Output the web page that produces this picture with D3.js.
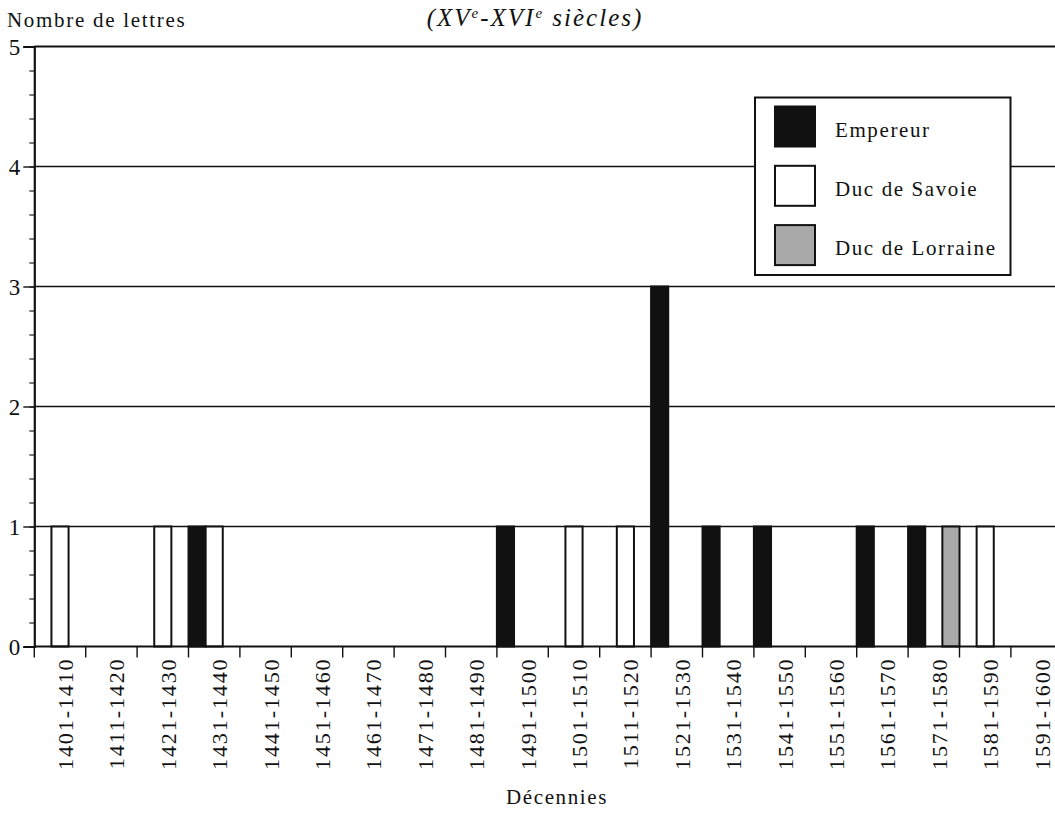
<!DOCTYPE html>
<html><head><meta charset="utf-8">
<script src="https://cdn.jsdelivr.net/npm/d3@7"></script>
<style>
html,body{margin:0;padding:0;background:#fff;overflow:hidden;}
svg{display:block;}
svg text{font-family:"Liberation Serif","DejaVu Serif","Noto Serif",serif !important;fill:#111;}
</style></head>
<body>
<svg id="chart" width="1055" height="813"></svg>
<script>
const decades = ["1401-1410","1411-1420","1421-1430","1431-1440","1441-1450","1451-1460","1461-1470","1471-1480","1481-1490","1491-1500","1501-1510","1511-1520","1521-1530","1531-1540","1541-1550","1551-1560","1561-1570","1571-1580","1581-1590","1591-1600"];
const seriesNames = ["Empereur","Duc de Savoie","Duc de Lorraine"];
const empereur = [0,0,0,1,0,0,0,0,0,1,0,0,3,1,1,0,1,1,0,0];
const savoie   = [1,0,1,1,0,0,0,0,0,0,1,1,0,0,0,0,0,0,1,0];
const lorraine = [0,0,0,0,0,0,0,0,0,0,0,0,0,0,0,0,0,1,0,0];
const yTicks = [0,1,2,3,4,5];
const seriesColors = ["#111111","#ffffff","#a9a9a9"];
const yTitle = "Nombre de lettres";
const xTitle = "Décennies";

const FONT = "'Liberation Serif','DejaVu Serif','Noto Serif',serif";
const svg = d3.select("#chart");
const left = 34.3, bandW = 51.4;
const y0 = 646.5, yTop = 46.5;

const x0 = d3.scaleBand().domain(decades).range([left, left + bandW*decades.length]).paddingInner(0).paddingOuter(0);
const x1 = d3.scaleBand().domain(seriesNames).range([0, x0.bandwidth()]).padding(0);
const y = d3.scaleLinear().domain([0,5]).range([y0, yTop]);
const color = d3.scaleOrdinal().domain(seriesNames).range(seriesColors);

// Title
const title = svg.append("text").attr("x", 535).attr("y", 26).attr("text-anchor","middle")
  .attr("font-family", FONT)
  .style("font-style","italic").style("font-size","25px").style("letter-spacing","2px");
title.append("tspan").text("(XV");
title.append("tspan").attr("dy",-8).style("font-size","15px").text("e");
title.append("tspan").attr("dy",8).text("-XVI");
title.append("tspan").attr("dy",-8).style("font-size","15px").text("e");
title.append("tspan").attr("dy",8).text(" siècles)");

// Gridlines
svg.append("g").selectAll("line").data(yTicks.filter(d=>d>0)).join("line")
  .attr("x1", left).attr("x2", 1060)
  .attr("y1", d=>y(d)).attr("y2", d=>y(d))
  .attr("stroke","#111").attr("stroke-width", d=> d===5 ? 2.2 : 1.4);

// Bars
const data = decades.map((d,i)=>({decade:d, values:[empereur[i], savoie[i], lorraine[i]]}));
const g = svg.append("g");
data.forEach(row=>{
  row.values.forEach((v,j)=>{
    if(v>0){
      const s = seriesNames[j];
      g.append("rect")
        .attr("x", x0(row.decade) + x1(s))
        .attr("y", y(v))
        .attr("width", x1.bandwidth())
        .attr("height", y(0)-y(v))
        .attr("fill", color(s))
        .attr("stroke","#111").attr("stroke-width",2);
    }
  });
});

// Y axis minor ticks
const minor = d3.range(0,5.0001,0.2).map(v=>+v.toFixed(1));
svg.append("g").attr("transform",`translate(${left},0)`)
  .call(d3.axisLeft(y).tickValues(minor).tickSize(5).tickFormat(""))
  .call(g=>g.select(".domain").remove())
  .call(g=>g.selectAll("line").attr("stroke","#222").attr("stroke-width",1.2));
// Y axis major
const yAxis = svg.append("g").attr("transform",`translate(${left},0)`)
  .call(d3.axisLeft(y).tickValues(yTicks).tickSize(11).tickPadding(3).tickFormat(d3.format("d")));
yAxis.attr("font-family", FONT).attr("font-size", 23);
yAxis.select(".domain").attr("stroke","#111").attr("stroke-width",2.2);
yAxis.selectAll("line").attr("stroke","#111").attr("stroke-width",1.4);
yAxis.selectAll("text").attr("font-family", FONT).style("font-size","23px").attr("fill","#111").attr("dy","0.35em");

// X axis
svg.append("line").attr("x1",left).attr("x2",1060).attr("y1",y0).attr("y2",y0)
  .attr("stroke","#111").attr("stroke-width",2.2);
svg.append("g").selectAll("line").data(decades).join("line")
  .attr("x1", d=>x0(d)).attr("x2", d=>x0(d))
  .attr("y1", y0).attr("y2", y0+11)
  .attr("stroke","#111").attr("stroke-width",1.4);
svg.append("g").selectAll("text").data(decades).join("text")
  .attr("transform", d=>`translate(${x0(d)+x0.bandwidth()/2+13},${y0+11}) rotate(-90)`)
  .attr("text-anchor","end")
  .attr("font-family", FONT)
  .style("font-size","22px").style("letter-spacing","1.9px")
  .text(d=>d);

// Axis titles
svg.append("text").attr("x",7).attr("y",27).attr("font-family", FONT).style("font-size","21px").style("letter-spacing","1.7px").text(yTitle);
svg.append("text").attr("x",557).attr("y",804).attr("text-anchor","middle").attr("font-family", FONT).style("font-size","21px").style("letter-spacing","1.6px").text(xTitle);

// Legend
const lg = svg.append("g");
lg.append("rect").attr("x",755).attr("y",97.5).attr("width",255.5).attr("height",177.5)
  .attr("fill","#fff").attr("stroke","#111").attr("stroke-width",2);
seriesNames.forEach((s,i)=>{
  const yy = 106.5 + i*59.3;
  lg.append("rect").attr("x",775).attr("y",yy).attr("width",40).attr("height",40)
    .attr("fill",color(s)).attr("stroke","#111").attr("stroke-width",2);
  lg.append("text").attr("x",835).attr("y",yy+30).attr("font-family", FONT).style("font-size","21px").style("letter-spacing","1.6px").text(s);
});
</script>
</body></html>
